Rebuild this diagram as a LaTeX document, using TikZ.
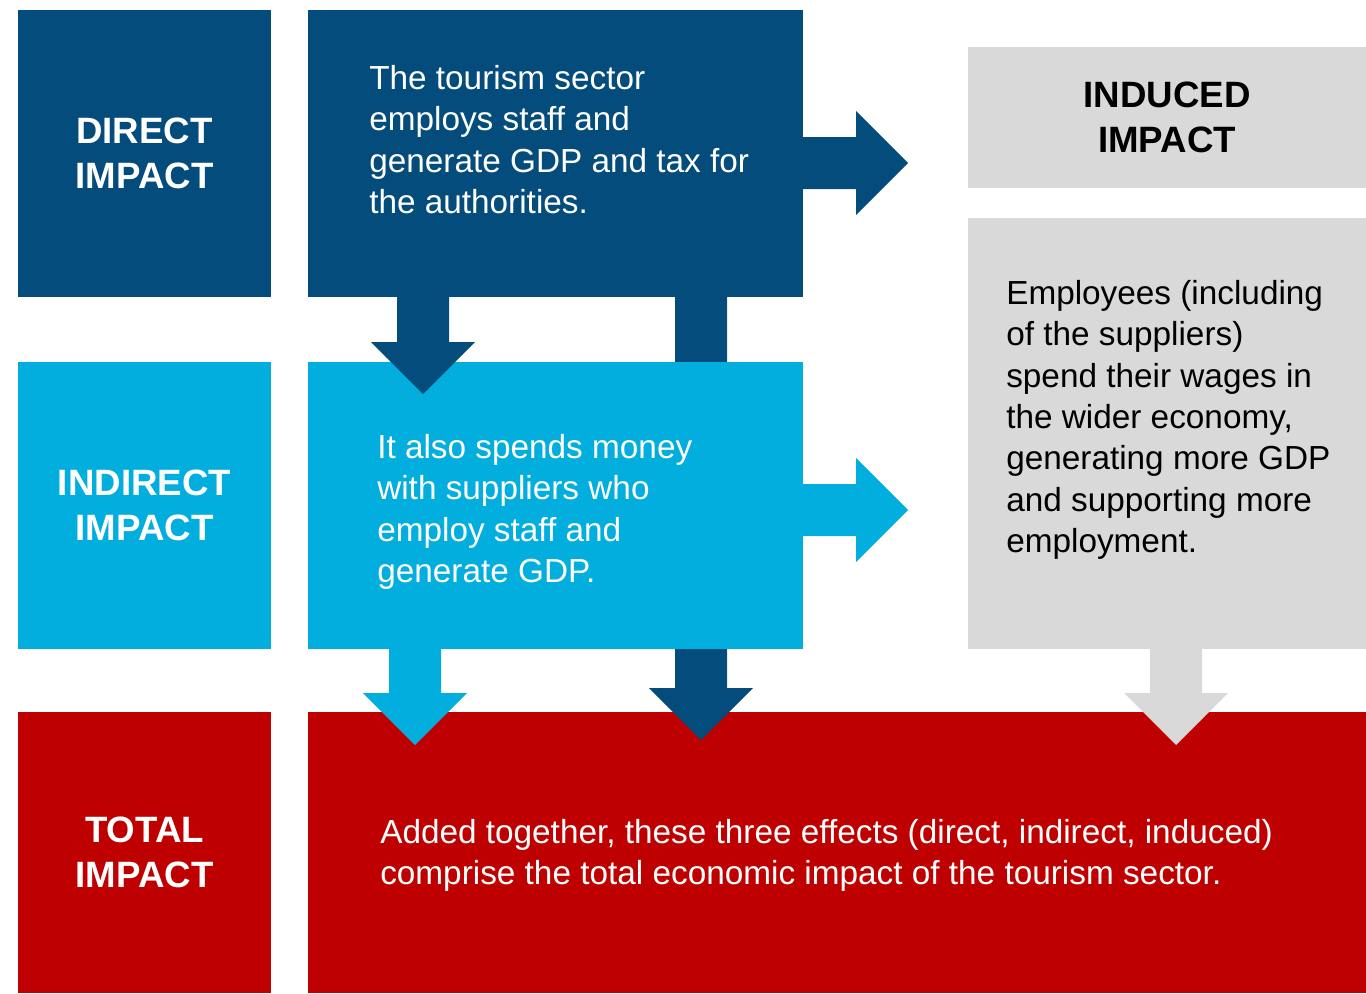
\documentclass[tikz,border=0pt]{standalone}
\usepackage{fontspec}
\setmainfont{Liberation Sans}
\usetikzlibrary{calc, positioning}

\definecolor{impactdark}{HTML}{044C7B}
\definecolor{impactlight}{HTML}{02AEDD}
\definecolor{impactgray}{HTML}{D9D9D9}
\definecolor{impactred}{HTML}{BF0000}

% block arrows: colour, start of shaft, tip
\newcommand{\blockdown}[3]{\fill[#1] ($(#2)+(-26,0)$) -- ($(#3)+(-26,-52)$) -- ($(#3)+(-52,-52)$) -- (#3) -- ($(#3)+(52,-52)$) -- ($(#3)+(26,-52)$) -- ($(#2)+(26,0)$) -- cycle;}
\newcommand{\blockright}[3]{\fill[#1] ($(#2)+(0,-26)$) -- ($(#3)+(-52,-26)$) -- ($(#3)+(-52,-52)$) -- (#3) -- ($(#3)+(-52,52)$) -- ($(#3)+(-52,26)$) -- ($(#2)+(0,26)$) -- cycle;}

\begin{document}
\begin{tikzpicture}[x=0.75pt,y=-0.75pt,
  tile/.style={inner sep=0pt, outer sep=0pt},
  headbox/.style={tile, minimum width=189.75pt, minimum height=215.25pt, align=center, text=white, font=\bfseries\fontsize{27.5}{33.5}\selectfont},
  mainbox/.style={tile, minimum width=371.25pt, minimum height=215.25pt},
  body/.style={inner sep=0pt, anchor=north west, align=left, font=\fontsize{25}{31}\selectfont}]

\useasboundingbox (0,0) rectangle (1366,993);

\node[headbox, fill=impactdark, anchor=north west] (directlabel) at (18,10) {DIRECT\\IMPACT};
\node[mainbox, fill=impactdark, right=27.75pt of directlabel] (directbox) {};
\node[headbox, fill=impactlight, below=48.75pt of directlabel] (indirectlabel) {INDIRECT\\IMPACT};
\node[headbox, fill=impactred, minimum height=210.75pt, below=47.25pt of indirectlabel] (totallabel) {TOTAL\\IMPACT};
\node[tile, fill=impactred, minimum width=793.5pt, minimum height=210.75pt, right=27.75pt of totallabel] (totalbox) {};

% long arrow passes under the indirect box
\coordinate (longtop) at ($(directbox.south west)+(393,0)$);
\coordinate (longtip) at ($(totalbox.north west)+(393,28)$);
\blockdown{impactdark}{longtop}{longtip}

\node[mainbox, fill=impactlight, right=27.75pt of indirectlabel] (indirectbox) {};
\node[tile, fill=impactgray, minimum width=298.5pt, minimum height=105.75pt, anchor=north west, align=center, font=\bfseries\fontsize{27.5}{33.5}\selectfont] (inducedlabel) at (968,47) {INDUCED\\IMPACT};
\node[tile, fill=impactgray, minimum width=298.5pt, minimum height=323.25pt, below=22.5pt of inducedlabel] (inducedbox) {};

\node[body, text=white] (directtext) at ($(directbox.north west)+(61,55)$) {The tourism sector\\employs staff and\\generate GDP and tax for\\the authorities.};
\node[body, text=white] (indirecttext) at ($(indirectbox.north west)+(69,72)$) {It also spends money\\with suppliers who\\employ staff and\\generate GDP.};
\node[body] (inducedtext) at ($(inducedbox.north west)+(38,62)$) {Employees (including\\of the suppliers)\\spend their wages in\\the wider economy,\\generating more GDP\\and supporting more\\employment.};
\node[body, text=white] (totaltext) at ($(totalbox.north west)+(72,107)$) {Added together, these three effects (direct, indirect, induced)\\comprise the total economic impact of the tourism sector.};

\coordinate (dtop) at ($(directbox.south west)+(115,0)$);
\coordinate (dtip) at ($(indirectbox.north west)+(115,32)$);
\coordinate (dstart) at ($(directbox.north east)+(0,153)$);
\coordinate (dend) at ($(directbox.north east)+(105,153)$);
\coordinate (istart) at ($(indirectbox.north east)+(0,148)$);
\coordinate (iend) at ($(indirectbox.north east)+(105,148)$);
\coordinate (itop) at ($(indirectbox.south west)+(107,0)$);
\coordinate (itip) at ($(totalbox.north west)+(107,33)$);
\coordinate (gtop) at ($(inducedbox.south west)+(208,0)$);
\coordinate (gtip) at ($(totalbox.north west)+(868,33)$);

\blockdown{impactdark}{dtop}{dtip}
\blockright{impactdark}{dstart}{dend}
\blockright{impactlight}{istart}{iend}
\blockdown{impactlight}{itop}{itip}
\blockdown{impactgray}{gtop}{gtip}
\end{tikzpicture}
\end{document}
